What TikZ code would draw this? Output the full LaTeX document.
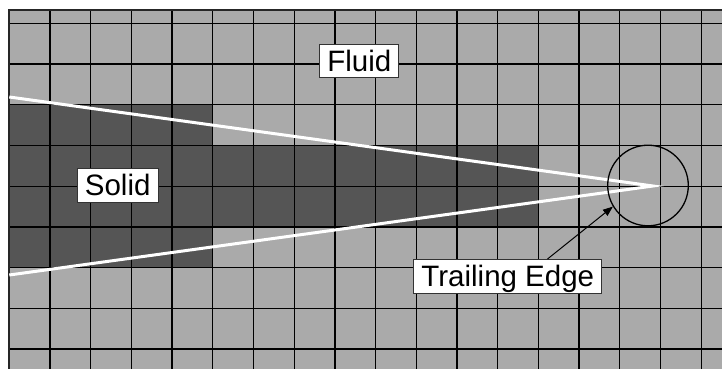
\documentclass[tikz,border=0pt]{standalone}
\usepackage{fontspec}
\setmainfont{Liberation Sans}
\usetikzlibrary{arrows.meta}
\definecolor{fluidgray}{HTML}{AAAAAA}
\definecolor{solidgray}{HTML}{555555}
\tikzset{
  gridline/.style={black, line width=1.3pt},
  label box/.style={draw=black!80, line width=0.9pt, fill=white, inner xsep=7.5pt, inner ysep=6.2pt,
    text height=21.3pt, text depth=0pt, font=\fontsize{29.5}{30}\selectfont},
  profile/.style={white, line width=3pt},
  ring/.style={circle, draw=black, line width=1.3pt, minimum size=80.6pt, inner sep=0pt},
  pointer/.style={black, line width=1pt, -{Triangle[length=10pt,width=7.5pt]}}
}
\begin{document}
\begin{tikzpicture}[x=1pt,y=-1pt]
\useasboundingbox (0,0) rectangle (722,369);
% background fluid region
\fill[fluidgray] (9.3,10) rectangle (722,369);
% solid cells
\fill[solidgray] (9.3,105.3) rectangle (212.7,268);
\fill[solidgray] (212.7,146) rectangle (538.3,227.5);
% grid
\begin{scope}
\clip (9.3,10) rectangle (722,369);
\foreach \k in {0,...,17} {
  \draw[gridline] (9.3+40.7*\k,10) -- (9.3+40.7*\k,369);
}
\foreach \k in {0,...,8} {
  \draw[gridline] (9.3,23.3+40.73*\k) -- (722,23.3+40.73*\k);
}
\end{scope}
\draw[black!85, line width=1.8pt] (9.3,369) -- (9.3,10) -- (722,10);
% airfoil profile
\coordinate (le1) at (9.3,97);
\coordinate (tip) at (653,186);
\coordinate (le2) at (9.3,275);
\draw[profile, line join=miter] (le1) -- (tip) -- (le2);
% circle around trailing edge
\node[ring] (circ) at (648,185.5) {};
% labels
\node[label box] (fluid) at (359.3,61) {Fluid};
\node[label box] (solid) at (117.7,185.3) {Solid};
\node[label box] (te) at (507.8,276.3) {Trailing Edge};
% pointer
\draw[pointer] ([xshift=39.7pt]te.north) -- (circ.211.6);
\end{tikzpicture}
\end{document}
